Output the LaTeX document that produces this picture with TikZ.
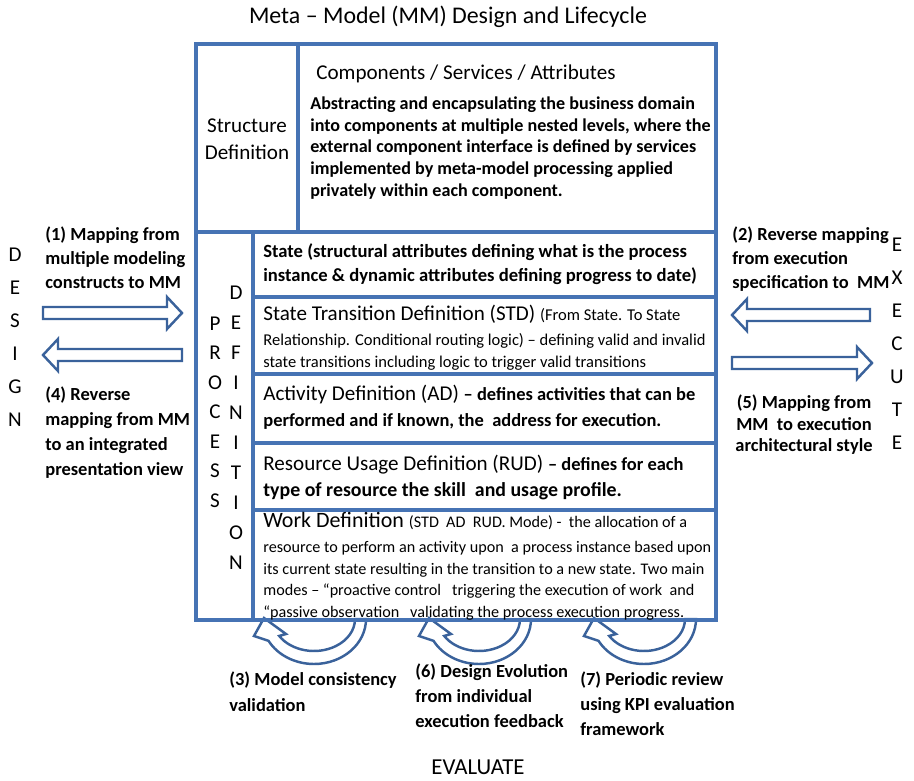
\documentclass[tikz,border=0pt]{standalone}
\usepackage{fontspec}
\setmainfont{Carlito}
\usetikzlibrary{positioning,calc}
\definecolor{mmblue}{RGB}{70,115,180}
\definecolor{arrowblue}{RGB}{58,98,155}
\tikzset{
  boxline/.style={draw=mmblue, line width=2.1pt},
  blockarrow/.style={draw=arrowblue, line width=1.4pt, fill=white, line join=miter},
  loopshape/.style={draw=arrowblue, line width=1.4pt, fill=white, line join=miter},
  titletext/.style={font=\fontsize{13.6}{15}\selectfont, inner sep=0pt},
  captext/.style={font=\fontsize{12}{15}\selectfont, inner sep=0pt},
  bodytext/.style={font=\bfseries\fontsize{10.3}{12.5}\selectfont, align=left, inner sep=0pt, anchor=north west},
  sidetext/.style={font=\bfseries\fontsize{10.5}{13.8}\selectfont, align=left, inner sep=0pt, anchor=north west},
  smalltext/.style={font=\fontsize{9.4}{12.3}\selectfont, align=left, inner sep=0pt, anchor=north west},
  letter/.style={font=\fontsize{12}{14}\selectfont, inner sep=0pt},
}
% block arrow: name, tail x, tip x, y
\newcommand{\blockarrow}[4]{%
  \pgfmathsetmacro\hbase{#3-15*sign(#3-#2)}
  \draw[blockarrow] (#2,#4-6) -- (\hbase,#4-6) -- (\hbase,#4-16) -- (#3,#4)
    -- (\hbase,#4+16) -- (\hbase,#4+6) -- (#2,#4+6) -- cycle;
  \coordinate (#1) at (#3,#4);}
% curved feedback arrow below the box: name, centre x, centre y
\newcommand{\loopback}[3]{%
  \begin{scope}[shift={(#2,#3)}, y=0.02cm]
    \draw[loopshape] (0:52 and 45) arc[start angle=0, end angle=-151, x radius=52, y radius=45]
      -- (-60,-17) -- (-50,1) -- (-28,-15) -- (-148:41 and 32)
      arc[start angle=-148, end angle=0, x radius=41, y radius=32] -- cycle;
    \coordinate (#1) at (-50,1);
  \end{scope}}

\begin{document}
\begin{tikzpicture}[x=0.02cm, y=-0.02cm]
\useasboundingbox (0,0) rectangle (914,781);

% feedback loops
\loopback{loop3}{314}{619}
\loopback{loop6}{479}{619}
\loopback{loop7}{644}{619}

% boxes
\draw[boxline] (196,44) rectangle (716,232);
\draw[boxline] (298,44) -- (298,232);
\draw[boxline] (196,232) rectangle (716,620);
\draw[boxline] (253,232) rectangle (716,297);
\draw[boxline] (253,297) rectangle (716,374);
\draw[boxline] (253,374) rectangle (716,443);
\draw[boxline] (253,443) rectangle (716,510);
\draw[boxline] (253,510) rectangle (716,620);

% title
\node[titletext] (title) at (448,17) {Meta -- Model (MM) Design and Lifecycle};
\node[titletext, font=\fontsize{13}{15}\selectfont] (evaluate) at (478,767) {EVALUATE};

% structure definition
\node[captext, align=center, font=\fontsize{12}{15.3}\selectfont] (structure) at (247,139) {Structure\\Definition};
\node[captext, anchor=west] (components) at (316,74) {Components / Services / Attributes};
\node[bodytext] (abstract) at (310,96) {Abstracting and encapsulating the business domain\\
into components at multiple nested levels, where the\\
external component interface is defined by services\\
implemented by meta-model processing applied\\
privately within each component.};

% process definition rows
\node[bodytext, font=\fontsize{10.6}{14}\selectfont\bfseries] (state) at (263,243) {State (structural attributes defining what is the process\\
instance \& dynamic attributes defining progress to date)};
\node[captext, anchor=base west] (std) at (263,320) {State Transition Definition (STD) {\fontsize{9.4}{10}\selectfont (From State. To State}};
\node[smalltext] (stdnote) at (263,333) {Relationship. Conditional routing logic) -- defining valid and invalid\\
state transitions including logic to trigger valid transitions};
\node[captext, anchor=base west] (ad) at (263,400) {Activity Definition (AD) {\bfseries\fontsize{10.5}{12}\selectfont -- defines activities that can be}};
\node[bodytext, font=\bfseries\fontsize{10.5}{12}\selectfont] (adnote) at (263,413) {performed and if known, the\ \ address for execution.};
\node[captext, anchor=base west] (rud) at (263,470) {Resource Usage Definition (RUD) {\bfseries\fontsize{10.5}{12}\selectfont -- defines for each}};
\node[bodytext, font=\bfseries\fontsize{11.3}{13}\selectfont] (rudnote) at (263,482) {type of resource the skill\ \ and usage profile.};
\node[captext, anchor=base west, font=\fontsize{12.5}{15}\selectfont] (work) at (263,527) {Work Definition {\fontsize{9.2}{10}\selectfont (STD\ \ AD\ \ RUD. Mode)\ -\ \ the allocation of a}};
\node[smalltext, font=\fontsize{9.2}{12.3}\selectfont] (worknote) at (263,541) {resource to perform an activity upon\ \ a process instance based upon\\
its current state resulting in the transition to a new state. Two main\\
modes -- ``proactive control\ \ \ triggering the execution of work\ \ and\\
``passive observation\ \ \ validating the process execution progress.};

% vertical labels
\foreach \l [count=\i] in {P,R,O,C,E,S,S}
  \node[letter] (proc\i) at (215,{294+29.5*\i}) {\l};
\foreach \l [count=\i] in {D,E,F,I,N,I,T,I,O,N}
  \node[letter] (defn\i) at (236,{263+30*\i}) {\l};
\foreach \l [count=\i] in {D,E,S,I,G,N}
  \node[letter] (design\i) at (15,{222+33*\i}) {\l};
\foreach \l [count=\i] in {E,X,E,C,U,T,E}
  \node[letter] (exec\i) at (897,{212+33*\i}) {\l};

% design side
\node[sidetext] (map1) at (45,226) {(1) Mapping from\\multiple modeling\\constructs to MM};
\blockarrow{arr1}{43}{182}{313}
\blockarrow{arr4}{182}{43}{355}
\node[sidetext, font=\bfseries\fontsize{10.5}{14.4}\selectfont] (map4) at (45,386) {(4) Reverse\\mapping from MM\\to an integrated\\presentation view};

% execute side
\node[sidetext] (map2) at (732,226) {(2) Reverse mapping\\from execution\\specification to\ \ MM};
\blockarrow{arr2}{870}{732}{315}
\blockarrow{arr5}{732}{872}{363}
\node[sidetext, font=\bfseries\fontsize{10.5}{12.5}\selectfont, align=center, anchor=north] (map5) at (804,394) {(5) Mapping from\\MM\ \ to execution\\architectural style};

% evaluate side
\node[sidetext, font=\bfseries\fontsize{10.5}{15}\selectfont] (eval3) at (229,671) {(3) Model consistency\\validation};
\node[sidetext, font=\bfseries\fontsize{10.5}{14.4}\selectfont] (eval6) at (415,663) {(6) Design Evolution\\from individual\\execution feedback};
\node[sidetext, font=\bfseries\fontsize{10.5}{14.4}\selectfont] (eval7) at (580,671) {(7) Periodic review\\using KPI evaluation\\framework};
\end{tikzpicture}
\end{document}
